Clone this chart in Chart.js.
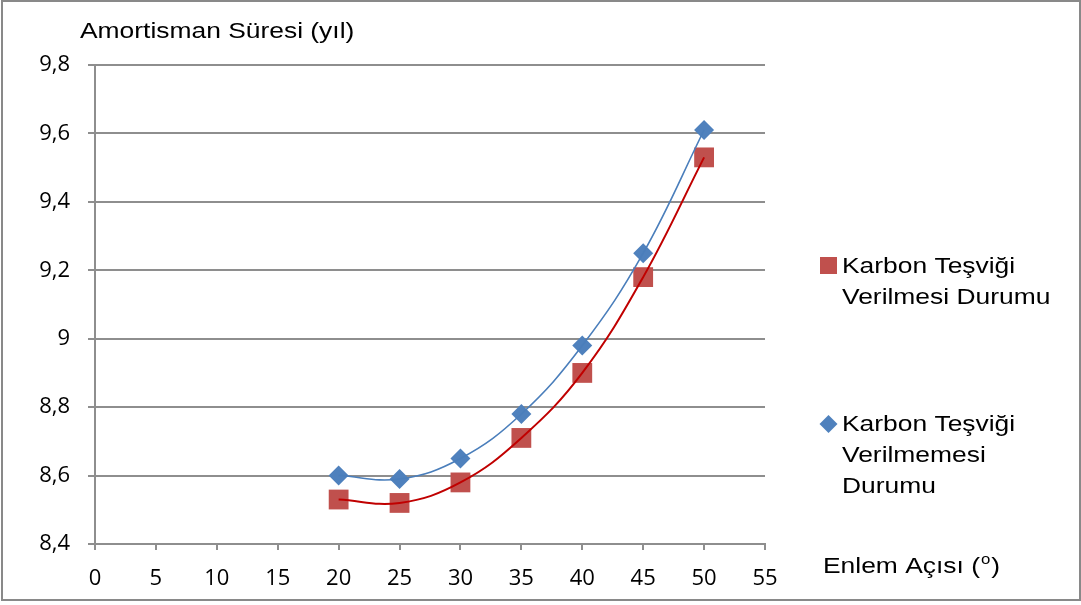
<!DOCTYPE html>
<html>
<head>
<meta charset="utf-8">
<script src="https://cdn.jsdelivr.net/npm/chart.js@4.4.1/dist/chart.umd.min.js"></script>
<style>
  html, body { margin: 0; padding: 0; background: #fff; }
  #wrap { width: 1081px; height: 605px; position: relative; }
  canvas { display: block; }
</style>
</head>
<body>
<div id="wrap"><canvas id="c" width="1081" height="605"></canvas></div>
<script>
// ---- data ----
const angles = [20, 25, 30, 35, 40, 45, 50];
const withIncentive = [8.53, 8.52, 8.58, 8.71, 8.90, 9.18, 9.53];     // Karbon Teşviği Verilmesi Durumu
const withoutIncentive = [8.60, 8.59, 8.65, 8.78, 8.98, 9.25, 9.61];  // Karbon Teşviği Verilmemesi Durumu
const xTickLabels = ['0', '5', '10', '15', '20', '25', '30', '35', '40', '45', '50', '55'];
const yTickLabels = ['8,4', '8,6', '8,8', '9', '9,2', '9,4', '9,6', '9,8'];
const seriesNames = [['Karbon Teşviği', 'Verilmesi Durumu'], ['Karbon Teşviği', 'Verilmemesi', 'Durumu']];
const yTitle = 'Amortisman Süresi (yıl)';
const xTitle = 'Enlem Açısı (';

const toPts = (xs, ys) => xs.map((x, i) => ({ x: x, y: ys[i] }));

const RED = '#C0504D', RED_LINE = '#C00000', BLUE = '#4F81BD', BLUE_LINE = '#4A7EBB';
const GRID = '#8e8e8e';
const TXT_FONT = '"Liberation Sans", Arial, sans-serif';
const SX = 1.2;

function sText(ctx, str, x, y, size, sx) {
  ctx.save();
  ctx.font = size + 'px ' + TXT_FONT;
  ctx.translate(x, y);
  ctx.scale(sx, 1);
  ctx.fillText(str, 0, 0);
  const w = ctx.measureText(str).width * sx;
  ctx.restore();
  return w;
}

const decor = {
  id: 'decor',
  afterDraw(chart) {
    const ctx = chart.ctx;
    ctx.save();
    // outer border
    ctx.strokeStyle = '#898989';
    ctx.lineWidth = 2;
    ctx.strokeRect(2, 1, 1078, 599);
    ctx.fillStyle = '#000';
    ctx.textBaseline = 'alphabetic';
    ctx.textAlign = 'left';
    // y axis title
    sText(ctx, yTitle, 80, 38, 22, SX);
    // x axis title with superscript
    let x = 823;
    x += sText(ctx, xTitle, x, 573, 22, SX);
    x += sText(ctx, 'o', x + 1, 564, 14, SX) + 1;
    sText(ctx, ')', x + 1, 573, 22, SX);
    // legend
    const ds = chart.data.datasets;
    // red square
    ctx.fillStyle = ds[2].backgroundColor;
    ctx.fillRect(820, 257, 17, 17);
    ctx.fillStyle = '#000';
    seriesNames[0].forEach((l, i) => sText(ctx, l, 842, 273 + i * 31, 22, SX));
    // blue diamond
    ctx.fillStyle = ds[3].backgroundColor;
    ctx.beginPath();
    ctx.moveTo(828.5, 415); ctx.lineTo(837.5, 424); ctx.lineTo(828.5, 433); ctx.lineTo(819.5, 424);
    ctx.closePath(); ctx.fill();
    ctx.fillStyle = '#000';
    seriesNames[1].forEach((l, i) => sText(ctx, l, 842, 431 + i * 31, 22, SX));
    ctx.restore();
  }
};

const TICK_FONT = { family: '"Open Sans", sans-serif', size: 22 };

new Chart(document.getElementById('c'), {
  type: 'scatter',
  data: {
    datasets: [
      { label: 'trend1', data: toPts(angles, withIncentive), showLine: true, borderColor: RED_LINE, borderWidth: 2, pointRadius: 0, tension: 0.4, fill: false, order: 1 },
      { label: 'trend2', data: toPts(angles, withoutIncentive), showLine: true, borderColor: BLUE_LINE, borderWidth: 1.6, pointRadius: 0, tension: 0.4, fill: false, order: 2 },
      { label: seriesNames[0].join(' '), data: toPts(angles, withIncentive), pointStyle: 'rect', pointRadius: 14, backgroundColor: RED, borderWidth: 0, showLine: false, order: 3 },
      { label: seriesNames[1].join(' '), data: toPts(angles, withoutIncentive), pointStyle: 'rectRot', pointRadius: 10, backgroundColor: BLUE, borderWidth: 0, showLine: false, order: 4 }
    ]
  },
  options: {
    responsive: false,
    animation: false,
    layout: { padding: { left: 0, top: 65, right: 316, bottom: 0 } },
    plugins: { legend: { display: false }, tooltip: { enabled: false }, title: { display: false } },
    scales: {
      x: {
        type: 'linear', min: 0, max: 55,
        ticks: { stepSize: 5, color: '#000', padding: 16, font: TICK_FONT,
                 callback: (v, i) => xTickLabels[i] },
        grid: { drawOnChartArea: false, drawTicks: true, tickLength: 6, color: GRID, lineWidth: 2 },
        border: { display: true, color: GRID, width: 2 },
        afterFit(s) { s.height = 61; }
      },
      y: {
        min: 8.4, max: 9.8,
        ticks: { stepSize: 0.2, color: '#000', padding: 18, font: TICK_FONT,
                 callback: (v, i) => yTickLabels[i] },
        grid: { drawOnChartArea: true, drawTicks: true, tickLength: 7, color: GRID, lineWidth: 2 },
        border: { display: true, color: GRID, width: 2 },
        afterFit(s) { s.width = 95; }
      }
    }
  },
  plugins: [decor]
});
</script>
</body>
</html>
